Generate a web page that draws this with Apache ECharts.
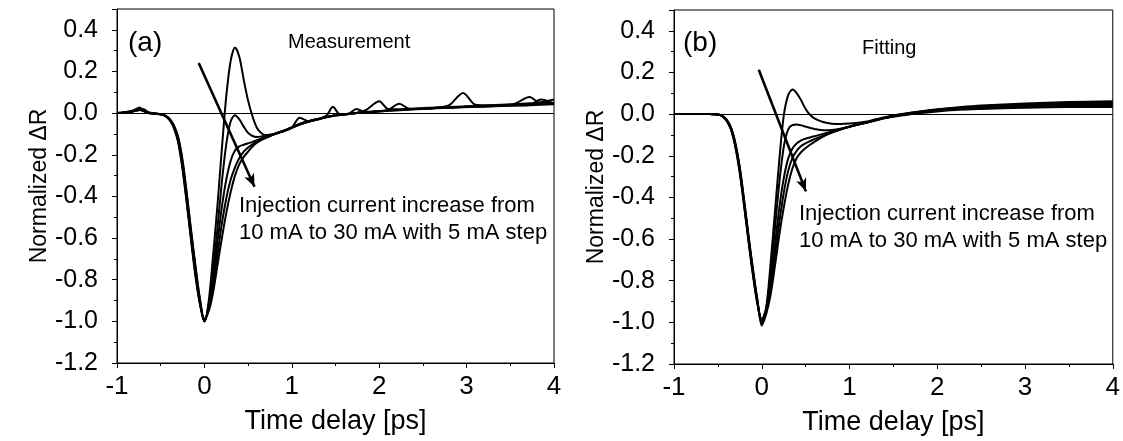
<!DOCTYPE html>
<html>
<head>
<meta charset="utf-8">
<title>Normalized dR</title>
<script src="https://cdn.jsdelivr.net/npm/echarts@6/dist/echarts.min.js"></script>
<style>
  html, body { margin: 0; padding: 0; background: #fff; }
  #main { width: 1123px; height: 441px; }
</style>
</head>
<body>
<div id="main"></div>
<script>
// time axis of the measured traces [ps]
var measT = [-1.0, -0.92, -0.84, -0.78, -0.74, -0.7, -0.64, -0.56, -0.5, -0.45, -0.4, -0.35, -0.3, -0.25, -0.2, -0.15, -0.1, -0.05, 0,
  0.05, 0.1, 0.15, 0.2, 0.25, 0.3, 0.35, 0.4, 0.45, 0.5, 0.55, 0.6, 0.65, 0.7,
  0.8, 0.9, 1.0, 1.09, 1.2, 1.3, 1.4, 1.47, 1.55, 1.65, 1.74, 1.85, 2.0, 2.1, 2.23, 2.35, 2.5, 2.65, 2.8, 2.96, 3.1, 3.25, 3.4, 3.55, 3.72, 3.85, 4.0];

// measurement, 10 / 15 / 20 / 25 / 30 mA
var meas10 = [0, 0.003, 0.01, 0.02, 0.027, 0.012, 0, -0.003, -0.005, -0.012, -0.032, -0.07, -0.14, -0.27, -0.44, -0.62, -0.79, -0.92, -1.0,
  -0.9, -0.68, -0.44, -0.17, 0.08, 0.25, 0.315, 0.27, 0.16, 0.06, -0.015, -0.07, -0.095, -0.105,
  -0.1, -0.085, -0.068, -0.052, -0.038, -0.028, -0.018, -0.012, -0.008, -0.003, 0.001, 0.005, 0.01, 0.013, 0.016, 0.019, 0.022, 0.026, 0.038, 0.097, 0.04, 0.036, 0.038, 0.04, 0.043, 0.047, 0.05];
var meas15 = [0, 0.002, 0.006, 0.012, 0.015, 0.01, 0.002, -0.002, -0.005, -0.012, -0.03, -0.065, -0.13, -0.25, -0.42, -0.6, -0.77, -0.91, -1.0,
  -0.92, -0.75, -0.55, -0.33, -0.15, -0.04, -0.01, -0.03, -0.065, -0.095, -0.11, -0.115, -0.112, -0.108,
  -0.1, -0.085, -0.068, -0.052, -0.038, -0.028, -0.018, -0.012, -0.008, -0.003, 0.001, 0.015, 0.057, 0.02, 0.018, 0.021, 0.024, 0.027, 0.029, 0.032, 0.034, 0.036, 0.038, 0.045, 0.078, 0.046, 0.048];
var meas20 = [0, 0.004, 0.008, 0.015, 0.02, 0.012, 0.001, -0.003, -0.006, -0.013, -0.028, -0.06, -0.12, -0.235, -0.4, -0.58, -0.75, -0.9, -1.0,
  -0.93, -0.8, -0.62, -0.45, -0.32, -0.23, -0.18, -0.16, -0.152, -0.145, -0.138, -0.13, -0.122, -0.115,
  -0.1, -0.086, -0.07, -0.055, -0.04, -0.03, -0.01, 0.03, -0.005, -0.004, 0.0, 0.004, 0.009, 0.012, 0.015, 0.018, 0.021, 0.024, 0.026, 0.029, 0.031, 0.033, 0.035, 0.037, 0.039, 0.065, 0.045];
var meas25 = [0, 0.002, 0.007, 0.013, 0.016, 0.011, 0.0, -0.004, -0.006, -0.013, -0.031, -0.068, -0.135, -0.26, -0.43, -0.61, -0.78, -0.915, -1.0,
  -0.94, -0.83, -0.68, -0.53, -0.41, -0.32, -0.26, -0.215, -0.185, -0.165, -0.15, -0.138, -0.127, -0.118,
  -0.1, -0.087, -0.07, -0.022, -0.04, -0.029, -0.019, -0.013, -0.009, -0.004, 0.0, 0.004, 0.009, 0.014, 0.045, 0.02, 0.022, 0.025, 0.028, 0.031, 0.034, 0.037, 0.04, 0.043, 0.047, 0.052, 0.065];
var meas30 = [0, 0.003, 0.006, 0.012, 0.016, 0.02, 0.004, -0.002, -0.005, -0.011, -0.027, -0.058, -0.115, -0.225, -0.39, -0.57, -0.74, -0.895, -0.99,
  -0.95, -0.86, -0.73, -0.6, -0.48, -0.38, -0.3, -0.245, -0.21, -0.185, -0.16, -0.142, -0.13, -0.12,
  -0.102, -0.088, -0.071, -0.055, -0.04, -0.03, -0.02, -0.014, -0.009, -0.004, 0.02, 0.004, 0.008, 0.011, 0.014, 0.017, 0.02, 0.023, 0.025, 0.028, 0.03, 0.032, 0.034, 0.036, 0.038, 0.04, 0.042];

// time axis of the fitted traces [ps]
var fitT = [-1.0, -0.8, -0.6, -0.5, -0.45, -0.4, -0.35, -0.3, -0.25, -0.2, -0.15, -0.1, -0.05, 0,
  0.05, 0.1, 0.15, 0.2, 0.25, 0.3, 0.35, 0.4, 0.45, 0.5, 0.55, 0.6, 0.7, 0.8, 0.9, 1.0, 1.1, 1.2,
  1.3, 1.4, 1.5, 1.6, 1.8, 2.0, 2.25, 2.5, 3.0, 3.5, 4.0];

// fitting, 10 / 15 / 20 / 25 / 30 mA
var fit10 = [0, 0, 0, -0.002, -0.011, -0.033, -0.075, -0.16, -0.285, -0.445, -0.615, -0.775, -0.91, -0.985,
  -0.93, -0.72, -0.47, -0.22, -0.01, 0.09, 0.118, 0.1, 0.065, 0.025, -0.003, -0.02, -0.038, -0.046, -0.047, -0.045, -0.041, -0.035,
  -0.025, -0.015, -0.006, 0.001, 0.013, 0.023, 0.033, 0.041, 0.051, 0.058, 0.062];
var fit15 = [0, 0, 0, -0.002, -0.01, -0.031, -0.072, -0.155, -0.277, -0.437, -0.607, -0.767, -0.905, -0.99,
  -0.94, -0.77, -0.55, -0.33, -0.16, -0.075, -0.052, -0.05, -0.054, -0.06, -0.066, -0.071, -0.077, -0.076, -0.07, -0.06, -0.05, -0.04,
  -0.027, -0.017, -0.008, -0.001, 0.011, 0.021, 0.03, 0.037, 0.046, 0.052, 0.055];
var fit20 = [0, 0, 0, -0.002, -0.01, -0.03, -0.07, -0.15, -0.27, -0.43, -0.6, -0.76, -0.9, -1.0,
  -0.95, -0.81, -0.63, -0.45, -0.31, -0.215, -0.165, -0.14, -0.126, -0.118, -0.112, -0.106, -0.095, -0.083, -0.071, -0.06, -0.049, -0.04,
  -0.028, -0.018, -0.009, -0.002, 0.009, 0.019, 0.027, 0.033, 0.041, 0.046, 0.048];
var fit25 = [0, 0, 0, -0.002, -0.009, -0.028, -0.067, -0.145, -0.263, -0.423, -0.593, -0.753, -0.895, -1.005,
  -0.955, -0.84, -0.68, -0.52, -0.38, -0.275, -0.21, -0.175, -0.153, -0.14, -0.13, -0.12, -0.103, -0.087, -0.073, -0.061, -0.05, -0.04,
  -0.029, -0.019, -0.011, -0.004, 0.007, 0.016, 0.024, 0.029, 0.036, 0.04, 0.041];
var fit30 = [0, 0, 0, -0.002, -0.008, -0.026, -0.064, -0.14, -0.255, -0.415, -0.585, -0.745, -0.89, -1.015,
  -0.96, -0.87, -0.73, -0.58, -0.45, -0.34, -0.26, -0.21, -0.182, -0.163, -0.147, -0.133, -0.108, -0.089, -0.074, -0.061, -0.05, -0.04,
  -0.03, -0.02, -0.012, -0.006, 0.005, 0.013, 0.021, 0.025, 0.031, 0.034, 0.034];

// arrows (start, end) in data units
var arrowA = [[-0.065, 0.241], [0.573, -0.354]];
var arrowB = [[-0.034, 0.213], [0.503, -0.371]];

var xTicks = { min: -1, max: 4, interval: 1 };
var yTicks = { min: -1.2, max: 0.5, interval: 0.2 };

var FONT = 'Liberation Sans, Arial, Helvetica, sans-serif';

function pairs(ts, vs) {
  var out = [];
  for (var i = 0; i < ts.length; i++) out.push([ts[i], vs[i]]);
  return out;
}

function xAxisFor(idx) {
  return {
    type: 'value', gridIndex: idx,
    min: xTicks.min, max: xTicks.max, interval: xTicks.interval,
    name: 'Time delay [ps]', nameLocation: 'middle', nameGap: 45,
    nameTextStyle: { fontFamily: FONT, fontSize: 27, color: '#000' },
    axisLine: { onZero: false, lineStyle: { color: '#000', width: 1 } },
    axisTick: { inside: false, length: 5, lineStyle: { color: '#000' } },
    minorTick: { show: true, splitNumber: 2, length: 3, lineStyle: { color: '#000' } },
    axisLabel: { fontFamily: FONT, fontSize: 26, color: '#000', margin: 11 },
    splitLine: { show: false }
  };
}
function yAxisFor(idx, gap) {
  return {
    type: 'value', gridIndex: idx,
    min: yTicks.min, max: yTicks.max, interval: yTicks.interval,
    name: 'Normalized \u0394R', nameLocation: 'middle', nameGap: gap, nameRotate: 90,
    nameTextStyle: { fontFamily: FONT, fontSize: 23, color: '#000' },
    axisLine: { onZero: false, lineStyle: { color: '#000', width: 1 } },
    axisTick: { inside: false, length: 5, lineStyle: { color: '#000' } },
    minorTick: { show: true, splitNumber: 2, length: 3, lineStyle: { color: '#000' } },
    axisLabel: {
      fontFamily: FONT, fontSize: 25, color: '#000', margin: 19, showMaxLabel: false,
      formatter: function (v) { return v.toFixed(1); }
    },
    splitLine: { show: false }
  };
}

function curve(idx, ts, vs, extra) {
  var s = {
    type: 'line', xAxisIndex: idx, yAxisIndex: idx,
    data: pairs(ts, vs), showSymbol: false, smooth: 0.3,
    lineStyle: { color: '#000', width: 2 }, silent: true
  };
  if (extra) s.markLine = extra;
  return s;
}
function guides(arrow) {
  return {
    silent: true, animation: false,
    symbol: ['none', 'none'],
    label: { show: false },
    lineStyle: { color: '#000', width: 1, type: 'solid' },
    data: [
      { yAxis: 0 },
      [
        { coord: arrow[0], symbol: 'none', lineStyle: { color: '#000', width: 2.6, type: 'solid' } },
        { coord: arrow[1], symbol: 'arrow', symbolSize: [8, 13] }
      ]
    ]
  };
}

var chart = echarts.init(document.getElementById('main'), null, { renderer: 'canvas' });
var option = {
  animation: false,
  backgroundColor: '#fff',
  grid: [
    { left: 117, top: 9, width: 437, height: 354, show: true, borderColor: '#000', borderWidth: 1 },
    { left: 674, top: 10, width: 441, height: 358, show: true, borderColor: '#000', borderWidth: 1 }
  ],
  xAxis: [xAxisFor(0), xAxisFor(1)],
  yAxis: [yAxisFor(0, 65), yAxisFor(1, 64)],
  series: [
    curve(0, measT, meas10, guides(arrowA)),
    curve(0, measT, meas15),
    curve(0, measT, meas20),
    curve(0, measT, meas25),
    curve(0, measT, meas30),
    curve(1, fitT, fit10, guides(arrowB)),
    curve(1, fitT, fit15),
    curve(1, fitT, fit20),
    curve(1, fitT, fit25),
    curve(1, fitT, fit30)
  ],
  graphic: [
    { type: 'text', left: 128, top: 29, style: { text: '(a)', font: '28px ' + FONT, fill: '#000' } },
    { type: 'text', left: 288, top: 32, style: { text: 'Measurement', font: '20px ' + FONT, fill: '#000' } },
    { type: 'text', left: 239, top: 192, style: { text: 'Injection current increase from\n10 mA to 30 mA with 5 mA step', font: '22px ' + FONT, fill: '#000', lineHeight: 27 } },
    { type: 'text', left: 683, top: 29, style: { text: '(b)', font: '28px ' + FONT, fill: '#000' } },
    { type: 'text', left: 862, top: 38, style: { text: 'Fitting', font: '20px ' + FONT, fill: '#000' } },
    { type: 'text', left: 799, top: 200, style: { text: 'Injection current increase from\n10 mA to 30 mA with 5 mA step', font: '22px ' + FONT, fill: '#000', lineHeight: 27 } }
  ]
};
chart.setOption(option);
</script>
</body>
</html>
